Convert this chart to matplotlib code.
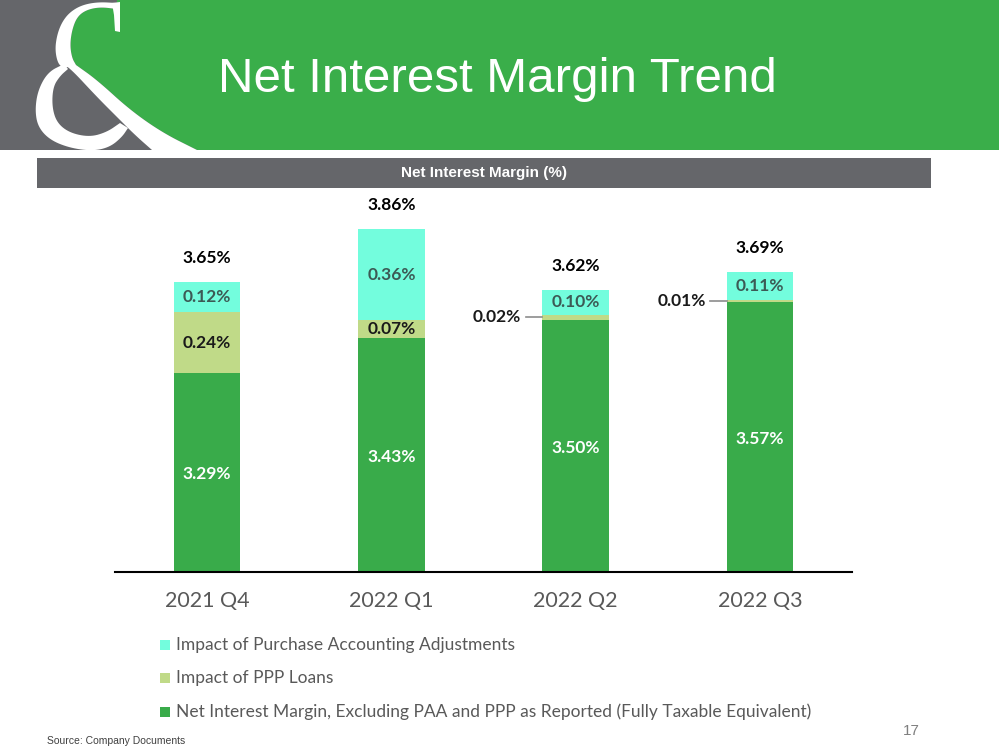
import matplotlib
matplotlib.use("Agg")
import matplotlib.pyplot as plt
from matplotlib.patches import Rectangle, Polygon
import numpy as np

W, H = 999, 750

categories = ["2021 Q4", "2022 Q1", "2022 Q2", "2022 Q3"]
nim_core = [3.29, 3.43, 3.50, 3.57]
ppp_impact = [0.24, 0.07, 0.02, 0.01]
paa_impact = [0.12, 0.36, 0.10, 0.11]
totals = [3.65, 3.86, 3.62, 3.69]
series_names = ["Impact of Purchase Accounting Adjustments",
                "Impact of PPP Loans",
                "Net Interest Margin, Excluding PAA and PPP as Reported (Fully Taxable Equivalent)"]

C_GREEN = "#39AB4A"
C_PPP = "#C0DA88"
C_PAA = "#73FDDD"
C_GREY = "#65666A"
C_HEADER = "#3AAE4A"

fig = plt.figure(figsize=(W / 100, H / 100), dpi=100)


def fx(x):
    return x / W


def fy(y):
    return 1 - y / H


def smooth(pts, n=3):
    pts = np.asarray(pts, float)
    for _ in range(n):
        new = [pts[0]]
        for a, b in zip(pts[:-1], pts[1:]):
            new.append(0.75 * a + 0.25 * b)
            new.append(0.25 * a + 0.75 * b)
        new.append(pts[-1])
        pts = np.array(new)
    return [tuple(p) for p in pts]


def P(pts):
    return [(fx(x), fy(y)) for x, y in pts]


def add_poly(pts, color, z):
    fig.patches.append(Polygon(P(pts), closed=True, transform=fig.transFigure,
                               facecolor=color, edgecolor="none", zorder=z))


# ---- header ----
fig.patches.append(Rectangle((0, fy(150)), 1, 150 / H, transform=fig.transFigure,
                             facecolor=C_HEADER, edgecolor="none", zorder=0))
c_inner = [(117, 9), (100, 7), (86, 10), (77, 17), (72, 30), (70, 45), (72, 58), (76, 65)]
green_edge = [(76, 65), (97, 80), (130, 110), (163, 133), (197, 150)]
grey_pts = [(0, 0), (117, 0)] + smooth(c_inner) + smooth(green_edge) + [(0, 150)]
add_poly(grey_pts, C_GREY, 1)

c_outer = [(117, 3), (98, 2), (82, 5), (70, 12), (62, 22), (57, 35), (55, 50), (58, 64), (64, 68)]
add_poly(smooth(c_outer) + smooth(c_inner[::-1]), "white", 2)
add_poly([(112, 3), (120, 2), (120, 32), (115, 31), (114, 15)], "white", 2)
diag_left = [(62, 64), (70, 68), (97, 97), (118, 118), (135, 135), (152, 150)]
add_poly(smooth(diag_left) + smooth(green_edge[::-1]), "white", 2)
bowl_outer = [(64, 64), (48, 72), (38, 90), (35, 110), (38, 127), (50, 140), (70, 148),
              (93, 151), (110, 147), (122, 137), (128, 128)]
bowl_inner = [(120, 123), (107, 132), (90, 137), (70, 133), (57, 123), (52, 107), (53, 87),
              (60, 76), (68, 69)]
add_poly(smooth(bowl_outer) + smooth(bowl_inner), "white", 2)
# clip to header
fig.patches.append(Rectangle((0, fy(156)), 1, 6 / H, transform=fig.transFigure,
                             facecolor="white", edgecolor="none", zorder=3))

fig.text(fx(218), fy(92), "Net Interest Margin Trend", color="white",
         fontsize=35.5, family="Liberation Sans", ha="left", va="baseline", zorder=4)

# ---- sub-header band ----
fig.patches.append(Rectangle((fx(37), fy(188)), (931 - 37) / W, 30 / H, transform=fig.transFigure,
                             facecolor=C_GREY, edgecolor="none", zorder=4))
fig.text(fx(484), fy(173), "Net Interest Margin (%)", color="white", fontsize=11,
         fontweight="bold", family="Liberation Sans", ha="center", va="center", zorder=5)

# ---- chart ----
ax = fig.add_axes([fx(115), fy(572), (852 - 115) / W, (572 - 194) / H])
x = np.arange(len(categories))
bw = 0.36
core = np.array(nim_core)
ppp = np.array(ppp_impact)
paa = np.array(paa_impact)
ax.bar(x, core, bw, color=C_GREEN, zorder=2)
ax.bar(x, ppp, bw, bottom=core, color=C_PPP, zorder=2)
ax.bar(x, paa, bw, bottom=core + ppp, color=C_PAA, zorder=2)
ax.set_xlim(-0.5, len(categories) - 0.5)
ax.set_ylim(2.5, 4.0)
for s in ["top", "right", "left"]:
    ax.spines[s].set_visible(False)
ax.spines["bottom"].set_color("black")
ax.spines["bottom"].set_linewidth(1.5)
ax.set_yticks([])
ax.set_xticks(x)
ax.set_xticklabels(categories, family="Lato", fontsize=15.5, color="#595959")
ax.tick_params(axis="x", length=0, pad=14)
ax.patch.set_visible(False)

lab_font = dict(family="Lato", fontweight="bold", fontsize=12.5, ha="center", va="center")
for i in range(len(categories)):
    ax.text(x[i], (2.5 + core[i]) / 2 - 0.008, f"{core[i]:.2f}%", color="white", **lab_font)
    top_ppp = core[i] + ppp[i]
    if ppp[i] >= 0.05:
        ax.text(x[i], core[i] + ppp[i] / 2, f"{ppp[i]:.2f}%", color="#1A1A1A", **lab_font)
    else:
        yv = core[i] + ppp[i] / 2
        ax.plot([x[i] - bw / 2 - 0.09, x[i] - bw / 2], [yv, yv], color="#8C8C8C", lw=1.2,
                zorder=3, clip_on=False)
        ax.text(x[i] - bw / 2 - 0.115, yv, f"{ppp[i]:.2f}%", color="#1A1A1A",
                family="Lato", fontweight="bold", fontsize=12.5, ha="right", va="center")
    ax.text(x[i], top_ppp + paa[i] / 2, f"{paa[i]:.2f}%", color="#3C5A55", **lab_font)
    ax.text(x[i], totals[i] + 0.095, f"{totals[i]:.2f}%", color="black", clip_on=False,
            **lab_font)

# ---- legend ----
leg_cols = [C_PAA, C_PPP, C_GREEN]
leg_y = [645, 678, 712]
for c, yy, name in zip(leg_cols, leg_y, series_names):
    fig.patches.append(Rectangle((fx(160), fy(yy + 5)), 10 / W, 10 / H, transform=fig.transFigure,
                                 facecolor=c, edgecolor="none"))
    fig.text(fx(176), fy(yy), name, family="Lato", fontsize=12.5, color="#595959",
             ha="left", va="center")

fig.text(fx(47), fy(741), "Source: Company Documents", family="Liberation Sans", fontsize=7.5,
         color="#404040", ha="left", va="center")
fig.text(fx(911), fy(731), "17", family="Liberation Sans", fontsize=11, color="#7F7F7F",
         ha="center", va="center")

fig.savefig("out.png", dpi=100)
